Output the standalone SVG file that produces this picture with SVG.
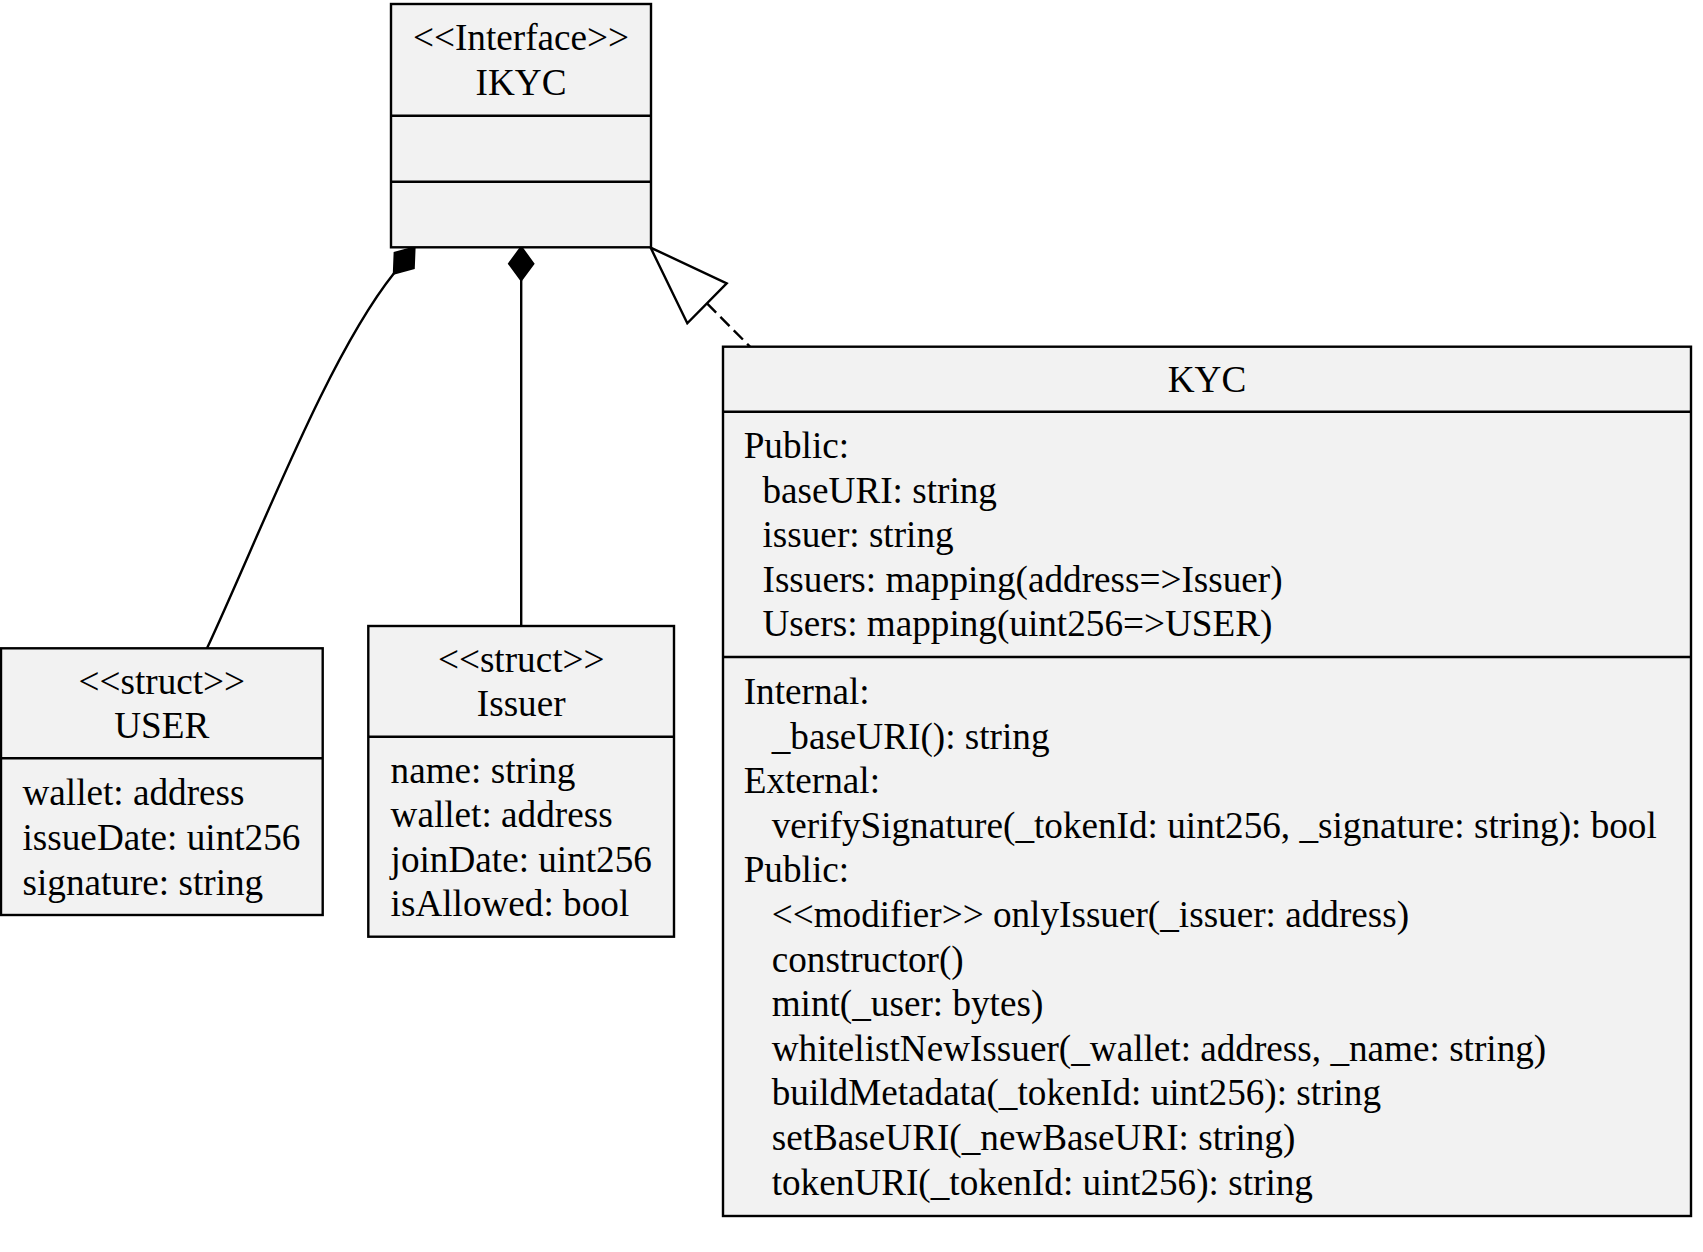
<svg xmlns="http://www.w3.org/2000/svg" width="1703" height="1252" viewBox="0 0 1703 1252">
<style>
.box{fill:#f2f2f2;stroke:#000;stroke-width:2.4}
.div{stroke:#000;stroke-width:2.4;fill:none}
.t{font-family:"Liberation Serif","Times New Roman",serif;font-size:37.2px;fill:#000}
.c{text-anchor:middle}
.edge{stroke:#000;stroke-width:2.4;fill:none}
.solid{fill:#000;stroke:#000;stroke-width:2.4}
.hollow{fill:#fff;stroke:#000;stroke-width:2.4}
</style>
<rect width="1703" height="1252" fill="#fff"/>
<g id="connectors">
  <path class="edge" d="M394,273.3 C328,356 262,530 207,648.3"/>
  <polygon class="solid" points="414.4,247.7 413.6,268 394,273.3 394.8,253"/>
  <line class="edge" x1="521.2" y1="280" x2="521.2" y2="626"/>
  <polygon class="solid" points="521.2,247.3 533.2,263.7 521.2,280 509.2,263.7"/>
  <line class="edge" x1="707" y1="303.3" x2="750" y2="346.7" stroke-dasharray="13,6"/>
  <polygon class="hollow" points="650.6,247.6 726.7,283.3 687.3,323.3"/>
</g>
<g id="IKYC">
  <rect class="box" x="391" y="4" width="260" height="243.3"/>
  <line class="div" x1="391" y1="115.7" x2="651" y2="115.7"/>
  <line class="div" x1="391" y1="181.7" x2="651" y2="181.7"/>
  <text class="t c" x="521" y="50">&lt;&lt;Interface&gt;&gt;</text>
  <text class="t c" x="521" y="94.6">IKYC</text>
</g>
<g id="USER">
  <rect class="box" x="1" y="648.3" width="321.7" height="266.7"/>
  <line class="div" x1="1" y1="758.3" x2="322.7" y2="758.3"/>
  <text class="t c" x="161.8" y="693.5">&lt;&lt;struct&gt;&gt;</text>
  <text class="t c" x="161.8" y="738.1">USER</text>
  <text class="t" x="22.5" y="805.4">wallet: address</text>
  <text class="t" x="22.5" y="850">issueDate: uint256</text>
  <text class="t" x="22.5" y="894.6">signature: string</text>
</g>
<g id="Issuer">
  <rect class="box" x="368.3" y="626" width="305.7" height="310.7"/>
  <line class="div" x1="368.3" y1="736.7" x2="674" y2="736.7"/>
  <text class="t c" x="521.2" y="671.5">&lt;&lt;struct&gt;&gt;</text>
  <text class="t c" x="521.2" y="716.1">Issuer</text>
  <text class="t" x="390.6" y="782.6">name: string</text>
  <text class="t" x="390.6" y="827.2">wallet: address</text>
  <text class="t" x="390.6" y="871.8">joinDate: uint256</text>
  <text class="t" x="390.6" y="916.4">isAllowed: bool</text>
</g>
<g id="KYC">
  <rect class="box" x="723" y="346.7" width="968" height="869.3"/>
  <line class="div" x1="723" y1="411.7" x2="1691" y2="411.7"/>
  <line class="div" x1="723" y1="657" x2="1691" y2="657"/>
  <text class="t c" x="1207" y="391.8">KYC</text>
  <text class="t" x="743.7" y="458">Public:</text>
  <text class="t" x="762.5" y="502.6">baseURI: string</text>
  <text class="t" x="762.5" y="547.2">issuer: string</text>
  <text class="t" x="762.5" y="591.8">Issuers: mapping(address=&gt;Issuer)</text>
  <text class="t" x="762.5" y="636.4">Users: mapping(uint256=&gt;USER)</text>
  <text class="t" x="743.7" y="704">Internal:</text>
  <text class="t" x="771.7" y="748.6">_baseURI(): string</text>
  <text class="t" x="743.7" y="793.2">External:</text>
  <text class="t" x="771.7" y="837.8">verifySignature(_tokenId: uint256, _signature: string): bool</text>
  <text class="t" x="743.7" y="882.4">Public:</text>
  <text class="t" x="771.7" y="927">&lt;&lt;modifier&gt;&gt; onlyIssuer(_issuer: address)</text>
  <text class="t" x="771.7" y="971.6">constructor()</text>
  <text class="t" x="771.7" y="1016.2">mint(_user: bytes)</text>
  <text class="t" x="771.7" y="1060.8">whitelistNewIssuer(_wallet: address, _name: string)</text>
  <text class="t" x="771.7" y="1105.4">buildMetadata(_tokenId: uint256): string</text>
  <text class="t" x="771.7" y="1150">setBaseURI(_newBaseURI: string)</text>
  <text class="t" x="771.7" y="1194.6">tokenURI(_tokenId: uint256): string</text>
</g>
</svg>
